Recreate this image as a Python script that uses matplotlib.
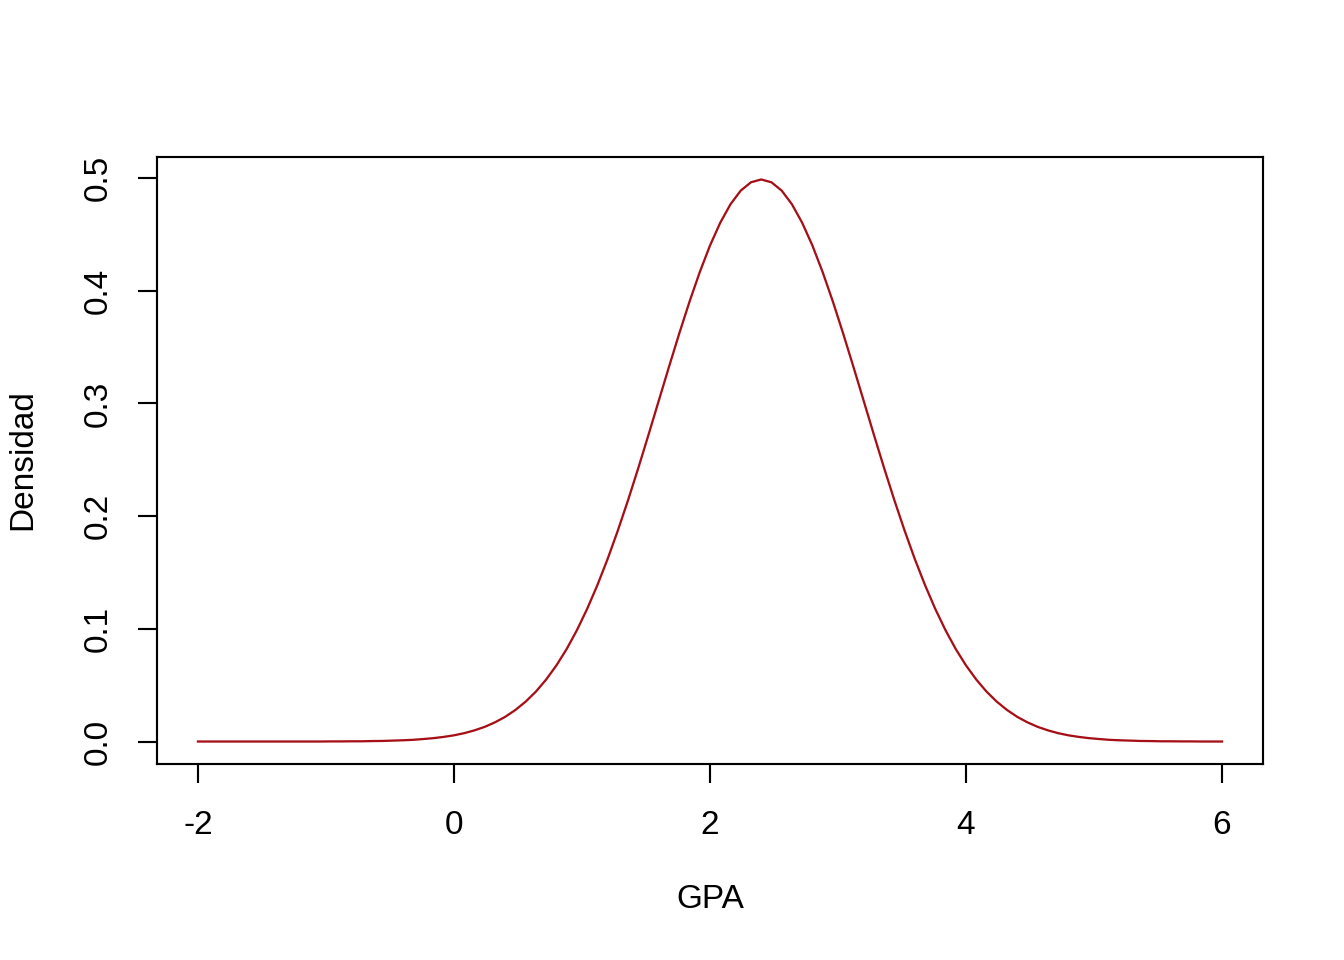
import numpy as np
import matplotlib
matplotlib.use("Agg")
import matplotlib.pyplot as plt

plt.rcParams['font.family'] = ['Liberation Sans', 'DejaVu Sans']

# GPA grid (101 points from -2 to 6) and density values
gpa = np.linspace(-2, 6, 101)
densidad = [
    0.0000, 0.0000, 0.0000, 0.0000, 0.0000, 0.0000, 0.0000, 0.0000, 0.0000, 0.0000,
    0.0000, 0.0000, 0.0000, 0.0001, 0.0001, 0.0002, 0.0002, 0.0004, 0.0005, 0.0008,
    0.0011, 0.0015, 0.0022, 0.0030, 0.0041, 0.0055, 0.0074, 0.0099, 0.0130, 0.0170,
    0.0219, 0.0280, 0.0354, 0.0443, 0.0550, 0.0675, 0.0820, 0.0987, 0.1176, 0.1387,
    0.1619, 0.1872, 0.2142, 0.2427, 0.2723, 0.3025, 0.3326, 0.3621, 0.3903, 0.4165,
    0.4401, 0.4603, 0.4767, 0.4888, 0.4962, 0.4987, 0.4962, 0.4888, 0.4767, 0.4603,
    0.4401, 0.4165, 0.3903, 0.3621, 0.3326, 0.3025, 0.2723, 0.2427, 0.2142, 0.1872,
    0.1619, 0.1387, 0.1176, 0.0987, 0.0820, 0.0675, 0.0550, 0.0443, 0.0354, 0.0280,
    0.0219, 0.0170, 0.0130, 0.0099, 0.0074, 0.0055, 0.0041, 0.0030, 0.0022, 0.0015,
    0.0011, 0.0008, 0.0005, 0.0004, 0.0002, 0.0002, 0.0001, 0.0001, 0.0000, 0.0000,
    0.0000,
]
xticks = [-2, 0, 2, 4, 6]
yticks = [0.0, 0.1, 0.2, 0.3, 0.4, 0.5]
xlabel = "GPA"
ylabel = "Densidad"

W, H, DPI = 1344, 960, 192
fig = plt.figure(figsize=(W / DPI, H / DPI), dpi=DPI)
ax = fig.add_axes([157 / W, 1 - 764 / H, (1263 - 157) / W, (764 - 157) / H])

ax.plot(gpa, densidad, color="#A50F15", lw=0.85)

ax.set_xlim(-2.32, 6.32)
ax.set_ylim(-0.01995, 0.51863)

ax.set_xticks(xticks)
ax.set_xticklabels([f"{t:g}" for t in xticks])
ax.set_yticks(yticks)
ax.set_yticklabels([f"{t:.1f}" for t in yticks], rotation=90, va="center")

for s in ax.spines.values():
    s.set_linewidth(0.8)
    s.set_color("black")

ax.tick_params(axis="both", direction="out", length=7.2, width=0.8, labelsize=12.5, colors="black")
ax.tick_params(axis="x", pad=10.0)
ax.tick_params(axis="y", pad=9.0)

fig.text(710 / W, 1 - 900 / H, xlabel, ha="center", va="center", fontsize=12.5)
fig.text(23 / W, 1 - 460 / H, ylabel, ha="center", va="center", rotation=90, fontsize=12.5)

fig.savefig("out.png", dpi=DPI, facecolor="white")
